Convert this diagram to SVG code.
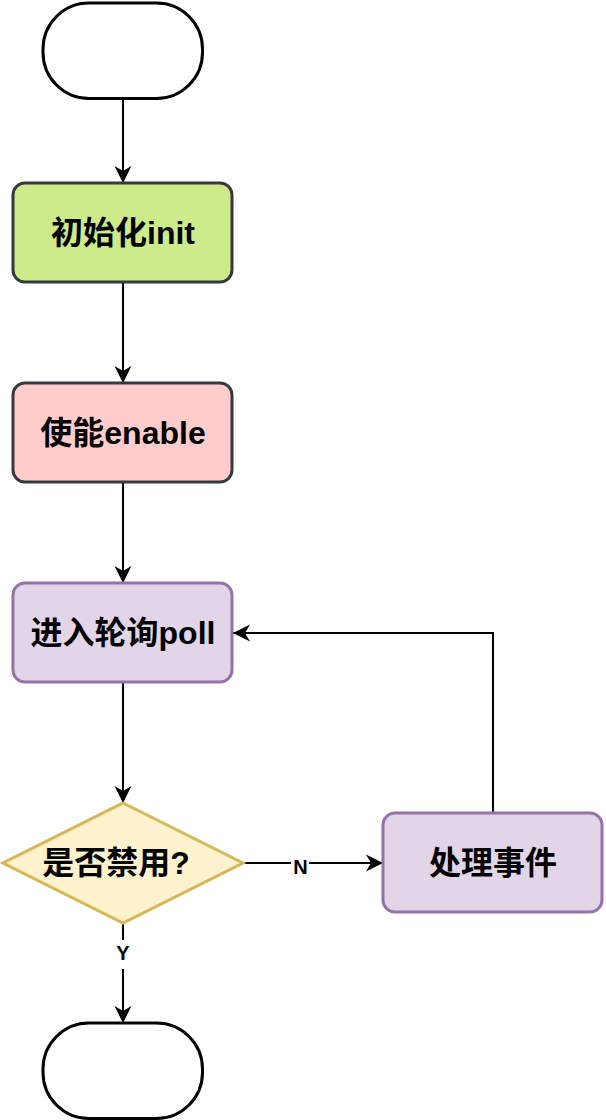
<svg xmlns="http://www.w3.org/2000/svg" width="606" height="1120" viewBox="0 0 606 1120">
  <style>
    .lbl{font-family:"Liberation Sans","Noto Sans CJK SC",sans-serif;font-weight:bold;font-size:32px;text-anchor:middle;fill:#000}
    .elbl{font-family:"Liberation Sans","Noto Sans CJK SC",sans-serif;font-weight:bold;font-size:20px;text-anchor:middle;fill:#000}
    .term{fill:#fff;stroke:#000;stroke-width:3}
    .edge{fill:none;stroke:#000;stroke-width:2}
  </style>
  <defs>
    <marker id="arr" markerUnits="userSpaceOnUse" markerWidth="18" markerHeight="18" refX="17" refY="8.5" orient="auto" overflow="visible">
      <path d="M0,0 L17,8.5 L0,17 L5,8.5 Z" fill="#000"/>
    </marker>
  </defs>

  <g id="connectors">
    <path class="edge" d="M123,98.5 L123,183" marker-end="url(#arr)"/>
    <path class="edge" d="M123,282 L123,383" marker-end="url(#arr)"/>
    <path class="edge" d="M123,482 L123,583" marker-end="url(#arr)"/>
    <path class="edge" d="M123,682 L123,803" marker-end="url(#arr)"/>
    <path class="edge" d="M243,863 L383,863" marker-end="url(#arr)"/>
    <path class="edge" d="M493,813 L493,633 L233,633" marker-end="url(#arr)"/>
    <path class="edge" d="M123,923 L123,1023" marker-end="url(#arr)"/>
    <rect x="291" y="853" width="18" height="23" fill="#fff"/>
    <text class="elbl" x="300.5" y="874">N</text>
    <rect x="113" y="940" width="20" height="29" fill="#fff"/>
    <text class="elbl" x="123" y="960">Y</text>
  </g>

  <g id="start">
    <rect class="term" x="43" y="3" width="159.5" height="95.5" rx="46" ry="46"/>
  </g>

  <g id="init">
    <rect x="13" y="183" width="219" height="99" rx="12" ry="12" fill="#cdeb8b" stroke="#36393d" stroke-width="3"/>
    <text class="lbl" x="123" y="244">初始化init</text>
  </g>

  <g id="enable">
    <rect x="13" y="383" width="219" height="99" rx="12" ry="12" fill="#ffcccc" stroke="#36393d" stroke-width="3"/>
    <text class="lbl" x="123" y="444">使能enable</text>
  </g>

  <g id="poll">
    <rect x="13" y="583" width="219" height="99" rx="12" ry="12" fill="#e1d5e7" stroke="#9673a6" stroke-width="3"/>
    <text class="lbl" x="123" y="644">进入轮询poll</text>
  </g>

  <g id="decision">
    <polygon points="123,803 243,863 123,923 3,863" fill="#fff2cc" stroke="#d6b656" stroke-width="3"/>
    <text class="lbl" x="116" y="874">是否禁用?</text>
  </g>

  <g id="process">
    <rect x="383" y="813" width="219" height="99" rx="12" ry="12" fill="#e1d5e7" stroke="#9673a6" stroke-width="3"/>
    <text class="lbl" x="493" y="874">处理事件</text>
  </g>

  <g id="end">
    <rect class="term" x="43" y="1023" width="159.5" height="95.5" rx="46" ry="46"/>
  </g>
</svg>
